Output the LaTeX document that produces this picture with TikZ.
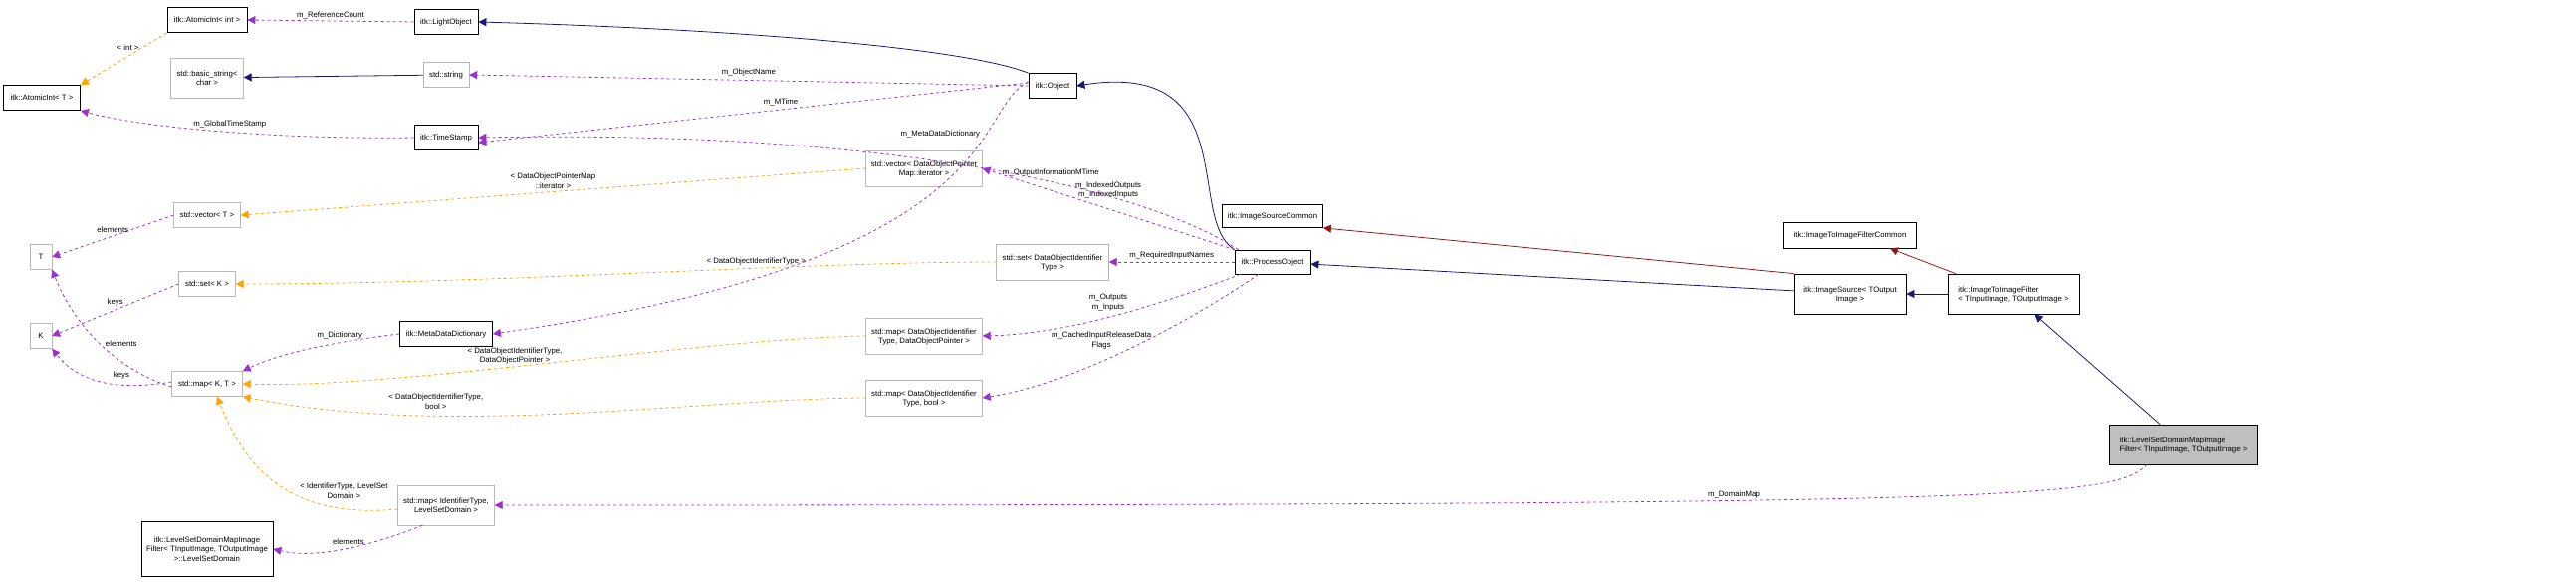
\documentclass[tikz,border=0pt]{standalone}
\usepackage{fontspec}
\setmainfont{Liberation Sans}
\usetikzlibrary{arrows.meta}
\definecolor{memc}{RGB}{154,50,205}
\definecolor{tplc}{RGB}{255,165,0}
\definecolor{inhc}{RGB}{25,25,112}
\definecolor{prvc}{RGB}{139,26,26}
\begin{document}
\begin{tikzpicture}[x=1pt,y=-1pt,
  font=\fontsize{7.8}{9.5}\selectfont,
  box/.style={draw=black,thick,fill=white,inner sep=1pt,align=center,minimum height=25,text depth=0pt},
  gbox/.style={box,draw=black!28,thin},
  mem/.style={draw=memc,dashed,thick,-{Triangle[length=8pt,width=8pt]}},
  tpl/.style={draw=tplc,dashed,thick,-{Triangle[length=8pt,width=8pt]}},
  inh/.style={draw=inhc,thick,-{Triangle[length=8pt,width=8pt]}},
  prv/.style={draw=prvc,thick,-{Triangle[length=8pt,width=8pt]}},
  lab/.style={align=center,inner sep=0pt}]
\useasboundingbox (0,0) rectangle (2587,585);
% nodes
\node[box,minimum width=80] (ai) at (208,20) {itk::AtomicInt< int >};
\node[box,minimum width=64] (lo) at (448,22) {itk::LightObject};
\node[box,minimum width=77] (at) at (42,98) {itk::AtomicInt< T >};
\node[gbox,minimum width=73,minimum height=40] (bs) at (208,78) {std::basic\_string<\\char >};
\node[gbox,minimum width=46] (ss) at (448,75) {std::string};
\node[box,minimum width=64] (ts) at (448,138) {itk::TimeStamp};
\node[gbox,minimum width=67] (vt) at (208,216) {std::vector< T >};
\node[gbox,minimum width=22] (T) at (41,258) {T};
\node[gbox,minimum width=57] (sk) at (208,285) {std::set< K >};
\node[gbox,minimum width=22] (K) at (41,337) {K};
\node[box,minimum width=93] (md) at (448,335) {itk::MetaDataDictionary};
\node[gbox,minimum width=71] (mkt) at (208,385) {std::map< K, T >};
\node[gbox,minimum width=97,minimum height=40] (mil) at (448,507) {std::map< IdentifierType,\\LevelSetDomain >};
\node[box,minimum width=132,minimum height=55] (lsd) at (208,551) {itk::LevelSetDomainMapImage\\Filter< TInputImage, TOutputImage\\ >::LevelSetDomain};
\node[box,minimum width=48] (ob) at (1057,86) {itk::Object};
\node[gbox,minimum width=117,minimum height=36] (vdp) at (928,169) {std::vector< DataObjectPointer\\Map::iterator >};
\node[gbox,minimum width=113,minimum height=36] (sdi) at (1057,263) {std::set< DataObjectIdentifier\\Type >};
\node[gbox,minimum width=117,minimum height=36] (mdp) at (928,337) {std::map< DataObjectIdentifier\\Type, DataObjectPointer >};
\node[gbox,minimum width=117,minimum height=36] (mdb) at (928,399) {std::map< DataObjectIdentifier\\Type, bool >};
\node[box,minimum width=101,minimum height=23] (isc) at (1278,217) {itk::ImageSourceCommon};
\node[box,minimum width=76,minimum height=24] (po) at (1278,263) {itk::ProcessObject};
\node[box,minimum width=133,minimum height=26] (iifc) at (1858,236) {itk::ImageToImageFilterCommon};
\node[box,minimum width=112,minimum height=40] (is) at (1858,295) {itk::ImageSource< TOutput\\Image >};
\node[box,minimum width=132,minimum height=40,align=left] (iif) at (2022,295) {itk::ImageToImageFilter\\< TInputImage, TOutputImage >};
\node[box,fill=black!25,minimum width=149,minimum height=40,align=left] (lf) at (2193,446) {itk::LevelSetDomainMapImage\\Filter< TInputImage, TOutputImage >};
\coordinate (lft) at ([xshift=51pt]lf.north west);
\coordinate (iifb) at ([xshift=-45pt]iif.south east);
\coordinate (iift) at ([xshift=8pt]iif.north west);
\coordinate (iifcb) at ([xshift=-27pt]iifc.south east);
% inheritance
\draw[inh] (ss) -- (bs);
\draw[inh] (ob.north west) .. controls (960,45) and (700,28) .. (lo.east);
\draw[inh] (po.north west) .. controls (1190,220) and (1250,60) .. (ob.east);
\draw[inh] (is) -- (po);
\draw[inh] (iif) -- (is);
\draw[inh] (lft) -- (iifb);
\draw[prv] (is.north west) -- (isc.south east);
\draw[prv] (iift) -- (iifcb);
% members
\draw[mem] (lo.west) -- node[lab,above=2pt]{m\_ReferenceCount} (ai.east);
\draw[mem] (ob.west) -- node[lab,above=4pt]{m\_ObjectName} (ss.east);
\draw[mem] ([yshift=3pt]ob.west) -- node[lab,above=4pt,pos=.45]{m\_MTime} ([yshift=-5pt]ts.east);
\draw[mem] (ts.west) .. controls (300,140) and (150,130) .. node[lab,above=4pt,pos=.5]{m\_GlobalTimeStamp} (at.south east);
\draw[mem] ([xshift=4pt]po.north west) .. controls (1150,190) and (900,130) .. node[lab,pos=.4,above=5pt]{m\_OutputInformationMTime} (ts.east);
\draw[mem] ([yshift=4pt]ob.west) .. controls (975,110) and (1020,260) .. node[lab,pos=.3,left=6pt]{m\_MetaDataDictionary} (md.east);
\draw[mem] (po.north west) -- node[lab,pos=.5,above=10pt]{m\_IndexedOutputs\\m\_IndexedInputs} (vdp.east);
\draw[mem] (po.west) -- node[lab,above=2pt]{m\_RequiredInputNames} (sdi.east);
\draw[mem] ([xshift=6pt]po.south west) .. controls (1180,300) and (1080,335) .. node[lab,pos=.55,above=6pt]{m\_Outputs\\m\_Inputs} (mdp.east);
\draw[mem] ([xshift=24pt]po.south west) .. controls (1200,320) and (1080,385) .. node[lab,pos=.6,above=12pt]{m\_CachedInputReleaseData\\Flags} (mdb.east);
\draw[mem] (vt.west) -- node[lab,above=3pt]{elements} (T.east);
\draw[mem] (sk.west) -- node[lab,above=3pt]{keys} (K.east);
\draw[mem] (md.west) .. controls (360,340) and (290,350) .. node[lab,above=3pt,pos=.4]{m\_Dictionary} (mkt.north east);
\draw[mem] ([yshift=-3pt]mkt.west) .. controls (130,375) and (80,340) .. node[lab,pos=.5,above=2pt,xshift=15pt]{elements} (T.south east);
\draw[mem] ([yshift=2pt]mkt.west) .. controls (120,392) and (80,385) .. node[lab,pos=.35,above=6pt]{keys} (K.south east);
\draw[mem] ([xshift=25pt]mil.south west) .. controls (380,545) and (320,562) .. node[lab,above=3pt,pos=.5]{elements} (lsd.east);
\draw[mem] ([xshift=38pt]lf.south west) .. controls (2120,500) and (2050,507) .. node[lab,pos=.6,above=2pt]{m\_DomainMap} (mil.east);
% templates
\draw[tpl] (ai.south west) -- node[lab,above=5pt,pos=.45]{< int >} (at.north east);
\draw[tpl] (vdp.west) -- node[lab,above=3pt]{< DataObjectPointerMap\\::iterator >} (vt.east);
\draw[tpl] (sdi.west) .. controls (800,263) and (500,285) .. node[lab,above=3pt,pos=.35]{< DataObjectIdentifierType >} (sk.east);
\draw[tpl] (mdp.west) .. controls (700,340) and (400,390) .. node[lab,above=2pt,pos=.55]{< DataObjectIdentifierType,\\DataObjectPointer >} (mkt.east);
\draw[tpl] (mdb.west) .. controls (700,400) and (450,440) .. node[lab,above=6pt,pos=.7]{< DataObjectIdentifierType,\\bool >} (mkt.south east);
\draw[tpl] ([yshift=-4pt]mil.west) .. controls (300,520) and (250,480) .. node[lab,pos=.2,above=10pt]{< IdentifierType, LevelSet\\Domain >} ([xshift=10pt]mkt.south);
\end{tikzpicture}
\end{document}
